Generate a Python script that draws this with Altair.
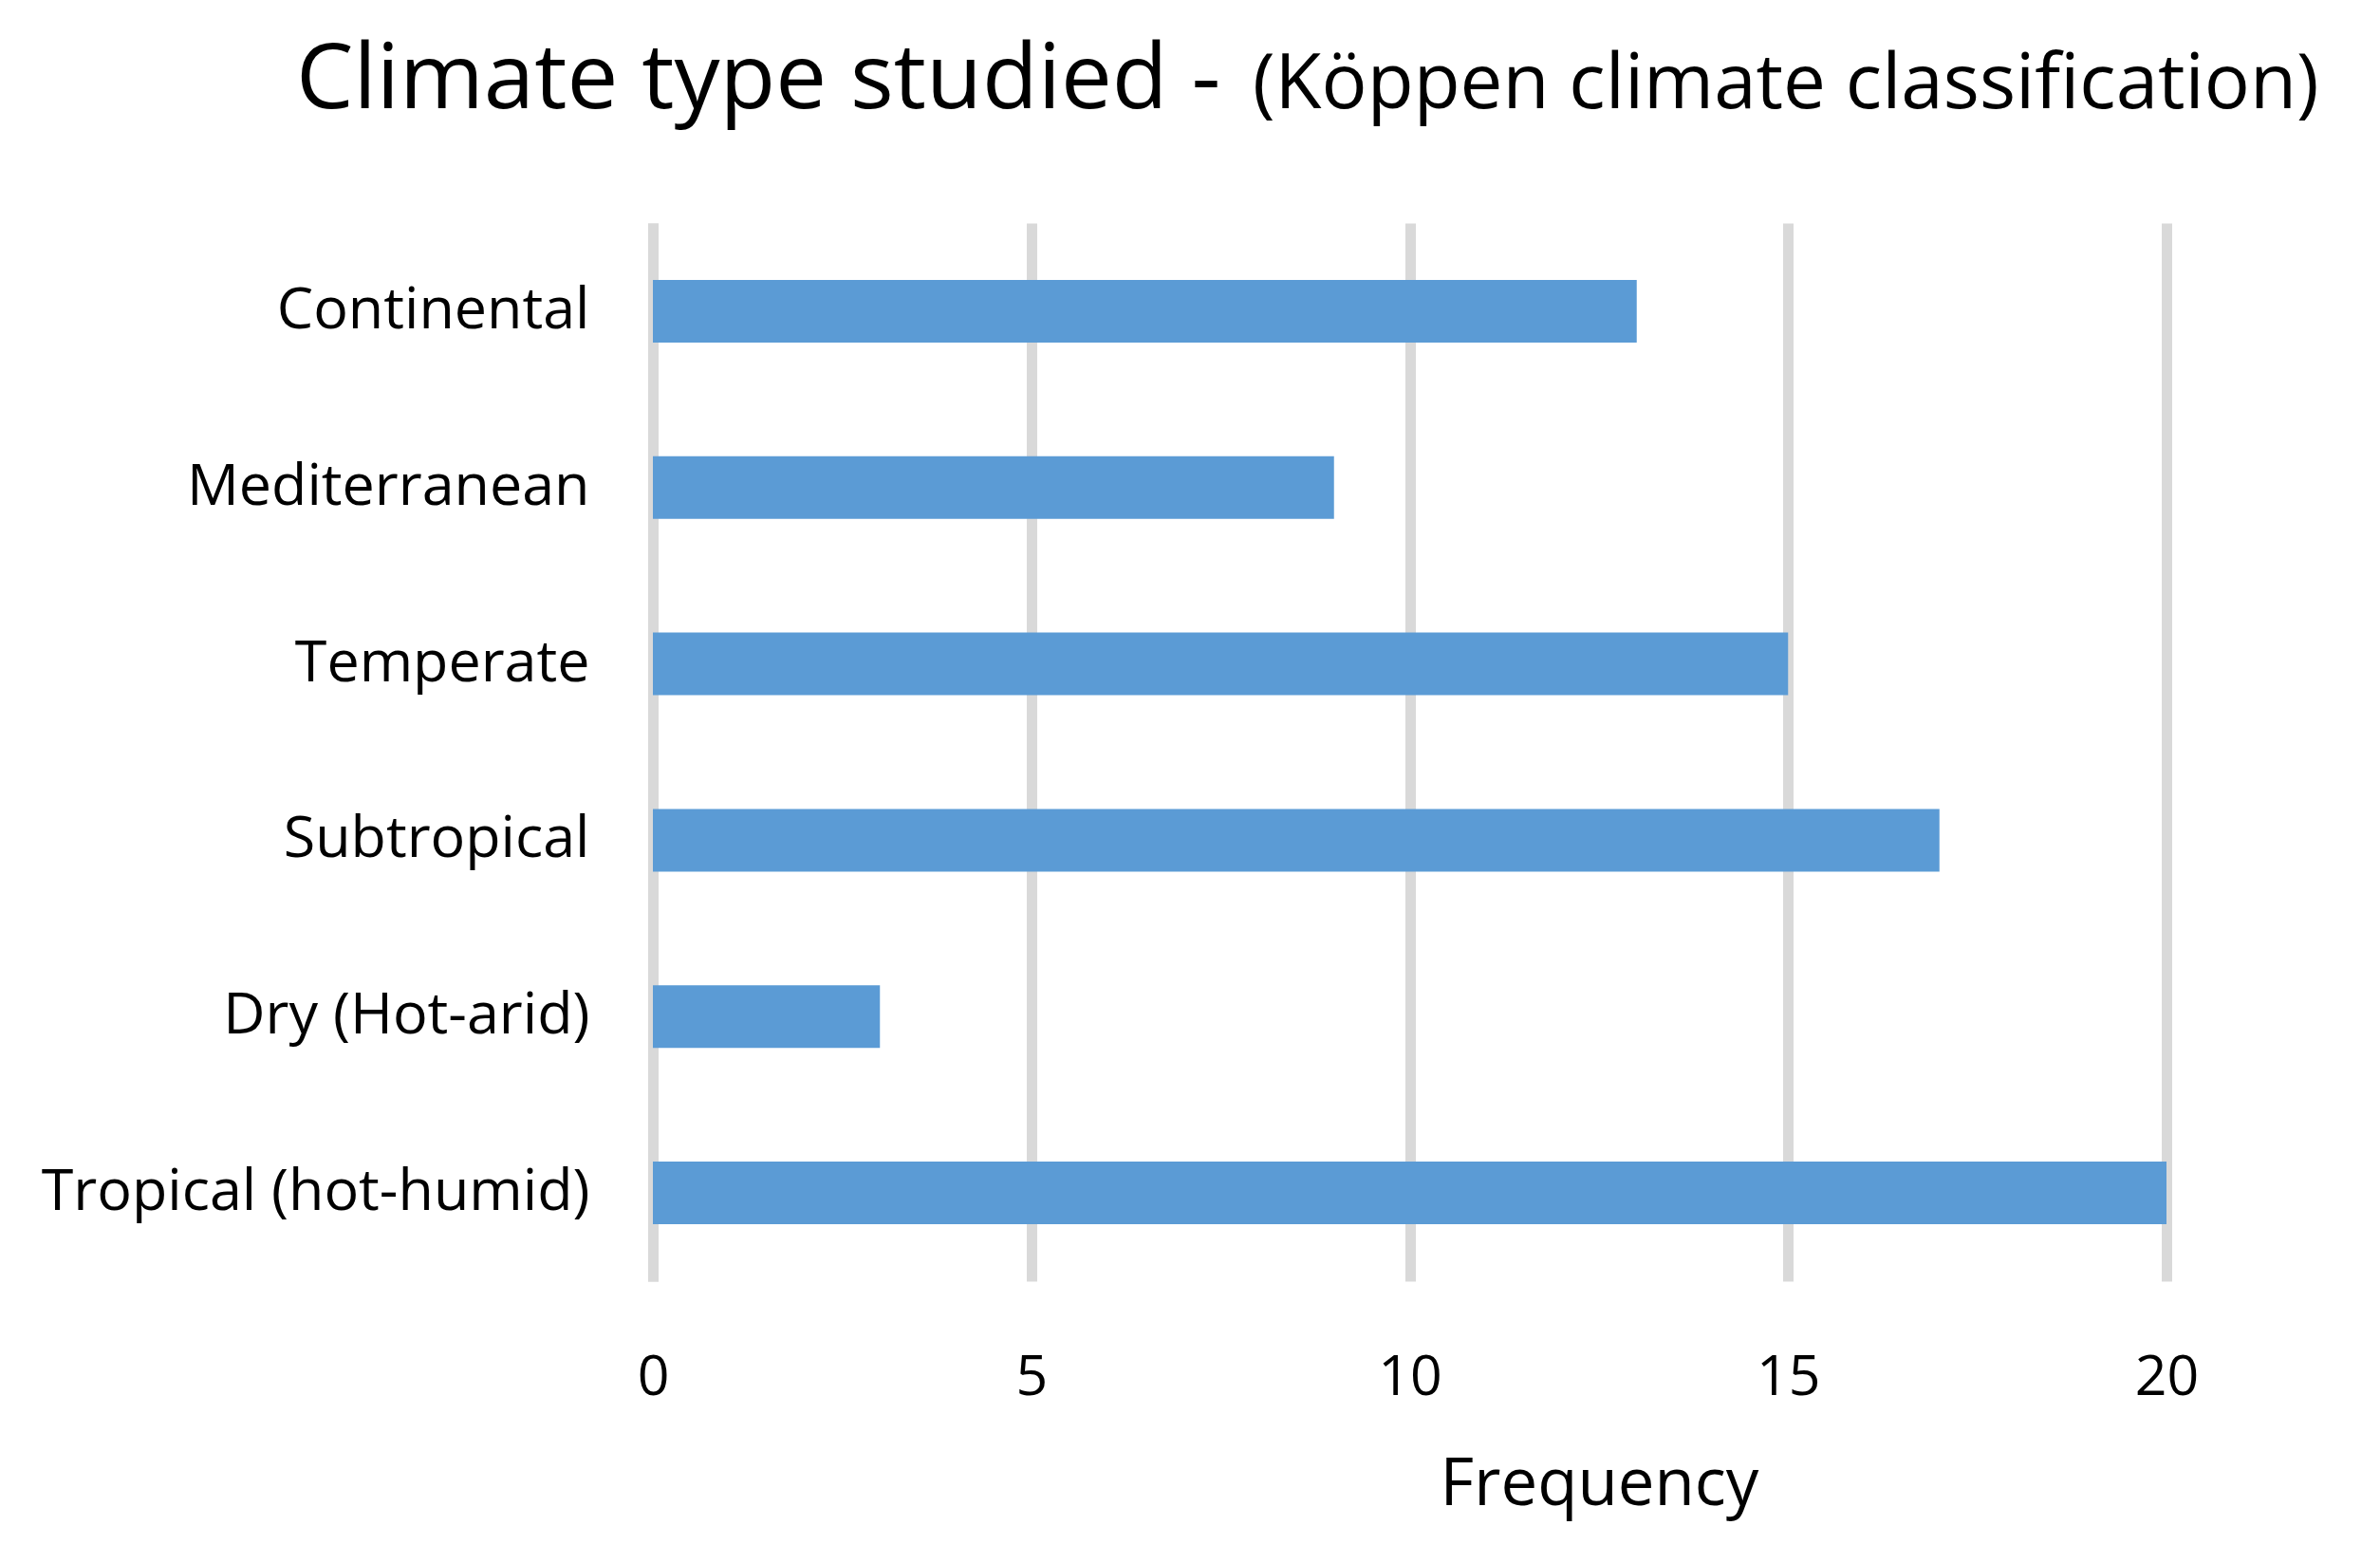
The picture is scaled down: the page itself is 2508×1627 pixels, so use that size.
import altair as alt
import pandas as pd

categories = ["Continental", "Mediterranean", "Temperate", "Subtropical",
              "Dry (Hot-arid)", "Tropical (hot-humid)"]
frequency = [13, 9, 15, 17, 3, 20]
x_ticks = [0, 5, 10, 15, 20]
title_main = "Climate type studied - "
title_sub = "(Köppen climate classification)"
x_title = "Frequency"

df = pd.DataFrame({"category": categories, "frequency": frequency})

FONT = "Open Sans"
BAR = "#5B9BD5"
GRID = "#D9D9D9"

bars = alt.Chart(df).mark_bar(color=BAR).encode(
    x=alt.X("frequency:Q",
            scale=alt.Scale(domain=[0, 20], nice=False, zero=True),
            axis=alt.Axis(values=x_ticks, title=x_title, grid=True,
                          gridColor=GRID, gridWidth=11, domain=False,
                          ticks=False, tickSize=0, labelFont=FONT,
                          labelFontSize=59, labelColor="#000000",
                          labelBaseline="alphabetic", labelPadding=119,
                          labelFlush=False,
                          titleFont=FONT, titleFontSize=69,
                          titleFontWeight="normal", titleColor="#000000",
                          titleX=997, titleY=235, titleBaseline="alphabetic",
                          titleAlign="center")),
    y=alt.Y("category:N", sort=categories,
            scale=alt.Scale(paddingInner=0.645, paddingOuter=0.3225),
            axis=alt.Axis(title=None, domain=True, domainColor=GRID,
                          domainWidth=11, ticks=False, tickSize=0,
                          labelFont=FONT, labelFontSize=61,
                          labelColor="#000000", labelPadding=67,
                          labelLimit=1000, grid=False)),
)

one_row = alt.Data(values=[{"k": 0}])

t_main = alt.Chart(one_row).mark_text(
    text=title_main, font=FONT, fontSize=96, align="left",
    baseline="alphabetic", color="#000000"
).encode(x=alt.value(-376), y=alt.value(-121))

t_sub = alt.Chart(one_row).mark_text(
    text=title_sub, font=FONT, fontSize=80, align="left",
    baseline="alphabetic", color="#000000"
).encode(x=alt.value(632), y=alt.value(-121))

chart = alt.layer(bars, t_main, t_sub).properties(
    width=1595, height=1115,
    autosize=alt.AutoSizeParams(type="none"),
    padding={"left": 680, "top": 227, "right": 200, "bottom": 272},
    background="white",
).configure_view(stroke=None)

chart.save("out.html", embed_options={"renderer": "svg", "actions": False})
